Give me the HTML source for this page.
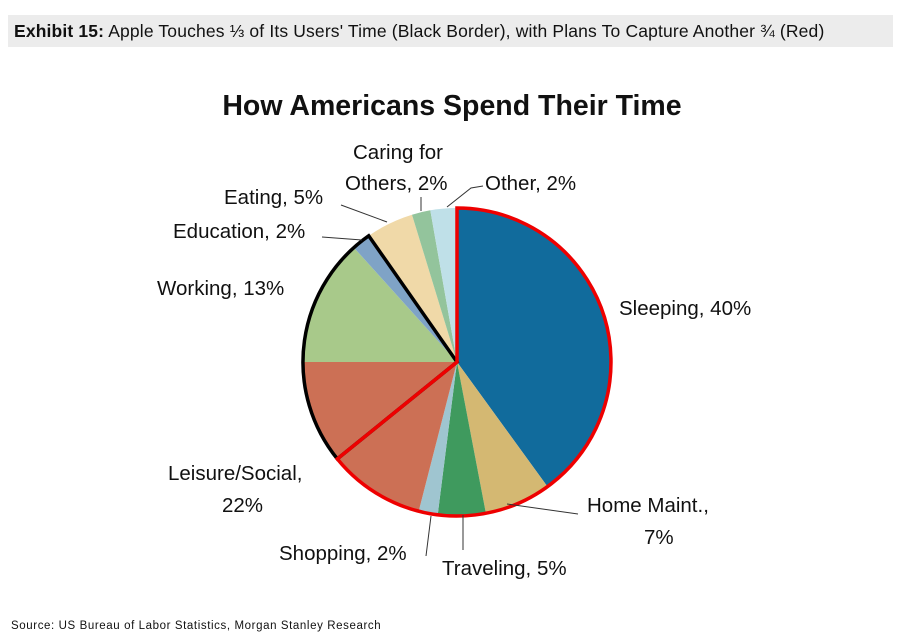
<!DOCTYPE html>
<html><head><style>
body{margin:0;background:#fff;width:900px;height:637px;overflow:hidden;font-family:"Liberation Sans",sans-serif}
.hdr{position:absolute;left:8px;top:15px;width:885px;height:32px;background:#ececec;font-size:17.5px;line-height:32px;padding-left:6px;box-sizing:border-box;color:#111;letter-spacing:0.15px}
.src{position:absolute;left:11px;top:620px;font-size:11.5px;color:#111;letter-spacing:0.6px}
</style></head><body>
<div class="hdr"><b>Exhibit 15:</b> Apple Touches ⅓ of Its Users' Time (Black Border), with Plans To Capture Another ¾ (Red)</div>
<svg width="900" height="637" style="position:absolute;left:0;top:0" font-family="Liberation Sans, sans-serif">
<text x="452" y="115" text-anchor="middle" font-size="28.5" font-weight="bold" fill="#111">How Americans Spend Their Time</text>
<g stroke="none">
<path d="M457,362 L457,208 A154,154 0 0 1 547.5,486.6 Z" fill="#116b9c"/>
<path d="M457,362 L547.5,486.6 A154,154 0 0 1 485.9,513.3 Z" fill="#d4b872"/>
<path d="M457,362 L485.9,513.3 A154,154 0 0 1 437.7,514.8 Z" fill="#3f9a5e"/>
<path d="M457,362 L437.7,514.8 A154,154 0 0 1 418.7,511.2 Z" fill="#9fc5d0"/>
<path d="M457,362 L418.7,511.2 A154,154 0 0 1 303,362 Z" fill="#cc7055"/>
<path d="M457,362 L303,362 A154,154 0 0 1 353.9,247.6 Z" fill="#a8c98a"/>
<path d="M457,362 L353.9,247.6 A154,154 0 0 1 368.7,235.8 Z" fill="#7fa3c6"/>
<path d="M457,362 L368.7,235.8 A154,154 0 0 1 412,214.7 Z" fill="#f0d9a8"/>
<path d="M457,362 L412,214.7 A154,154 0 0 1 430.3,210.3 Z" fill="#93c49c"/>
<path d="M457,362 L430.3,210.3 A154,154 0 0 1 457,208 Z" fill="#bfe0e8"/>
</g>
<path d="M457,362 L337.3,458.9 A154,154 0 0 1 368.7,235.8 Z" fill="none" stroke="#000" stroke-width="3.5" stroke-linejoin="miter"/>
<path d="M457,362 L457,208 A154,154 0 1 1 337.3,458.9 Z" fill="none" stroke="#e00" stroke-width="3.5" stroke-linejoin="miter"/>
<g stroke="#333" stroke-width="1" fill="none">
<path d="M341,205 L387,222"/>
<path d="M322,237 L362,240"/>
<path d="M421,197 L421,211"/>
<path d="M483,186 L471,188 L447,207"/>
<path d="M507,504 L578,514"/>
<path d="M463,515 L463,550"/>
<path d="M431,516 L426,556"/>
</g>
<g font-size="20.5" fill="#111">
<text x="353" y="159">Caring for</text>
<text x="345" y="190">Others, 2%</text>
<text x="485" y="190">Other, 2%</text>
<text x="224" y="204">Eating, 5%</text>
<text x="173" y="238">Education, 2%</text>
<text x="157" y="295">Working, 13%</text>
<text x="619" y="315">Sleeping, 40%</text>
<text x="168" y="480">Leisure/Social,</text>
<text x="222" y="512">22%</text>
<text x="587" y="512">Home Maint.,</text>
<text x="644" y="544">7%</text>
<text x="279" y="560">Shopping, 2%</text>
<text x="442" y="575">Traveling, 5%</text>
</g>
</svg>
<div class="src">Source: US Bureau of Labor Statistics, Morgan Stanley Research</div>
</body></html>
